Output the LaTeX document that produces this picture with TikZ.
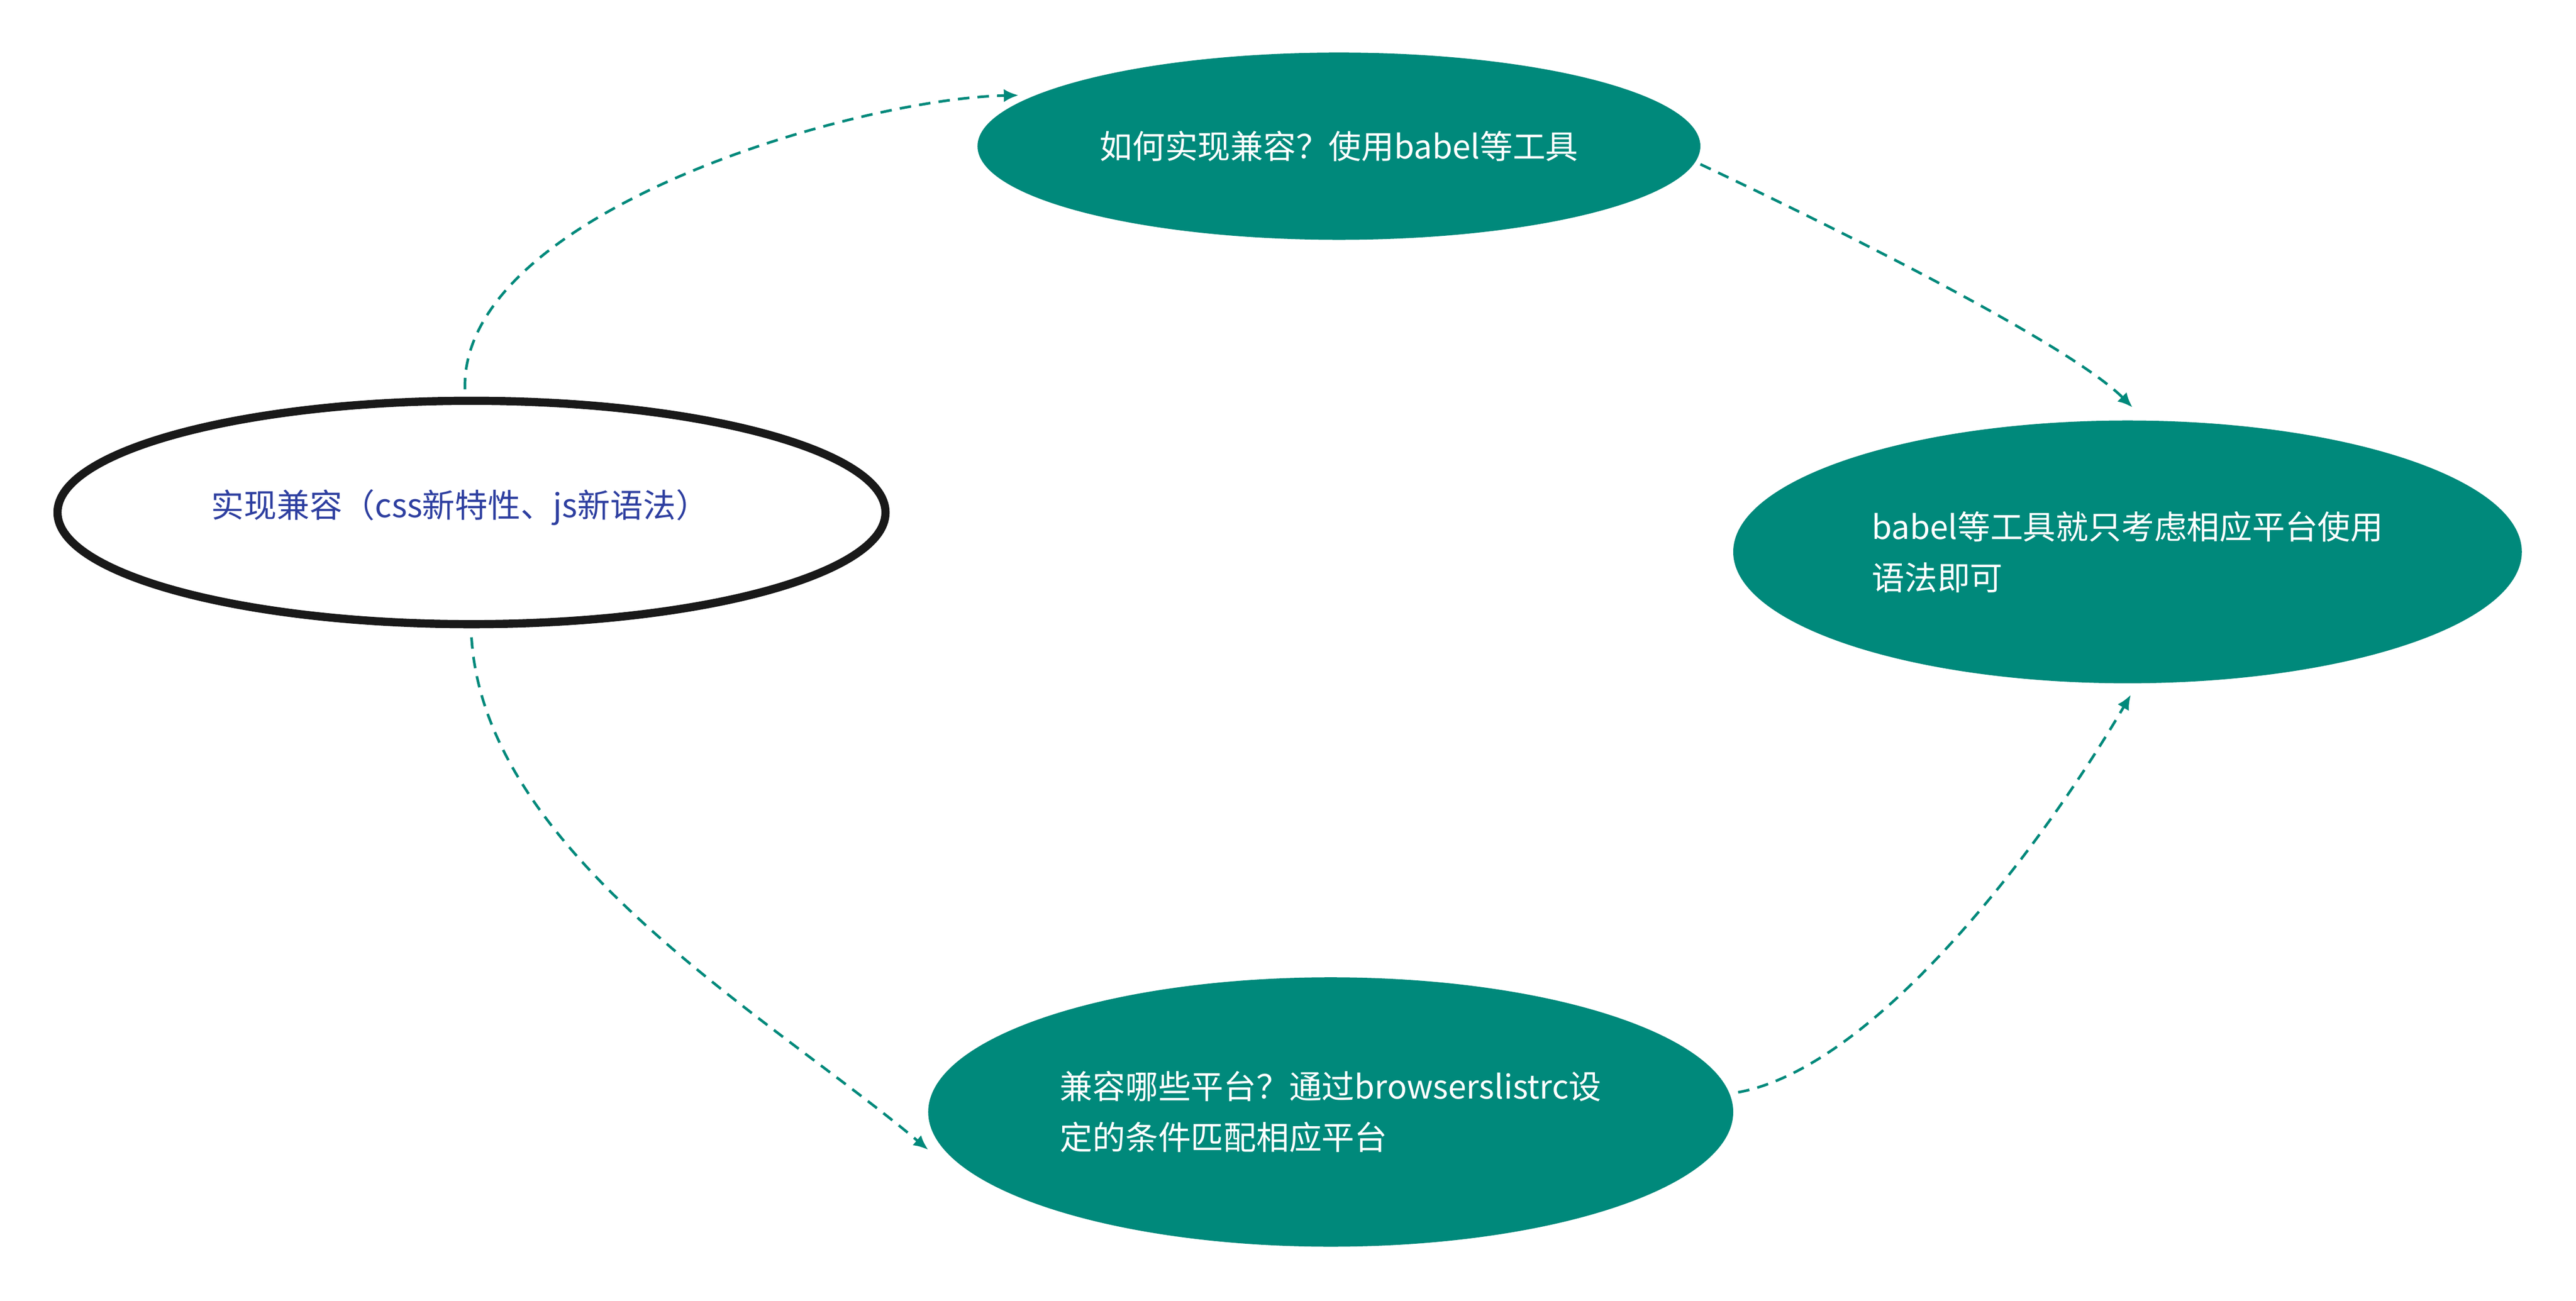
\documentclass[tikz,border=0pt]{standalone}
\usepackage{fontspec}
\setmainfont{Noto Sans CJK SC}
\usetikzlibrary{arrows.meta}
\definecolor{teal1}{HTML}{00897B}
\definecolor{blue1}{HTML}{2E3FA0}
\tikzset{
  con/.style={draw=teal1, line width=1.6pt, dash pattern=on 7pt off 5pt, -{Latex[length=9pt,width=8pt]}}
}
\begin{document}
\begin{tikzpicture}[x=1bp,y=-1bp]
\useasboundingbox (0,0) rectangle (1568,792);
\path[fill=white,draw=black!90,line width=5pt] (287,312) ellipse [x radius=252,y radius=68];
\node[text=blue1,font=\fontsize{20}{30}\selectfont] (L) at (280,309) {实现兼容（css新特性、js新语法）};
\coordinate (Lt) at (283,237); \coordinate (Lb) at (287,388);
\fill[teal1] (815,89) ellipse [x radius=220,y radius=57];
\node[text=white,font=\fontsize{20}{30}\selectfont] (T) at (815,89) {如何实现兼容？使用babel等工具};
\coordinate (Tl) at (620,58); \coordinate (Tr) at (1035,100);
\fill[teal1] (1295,336) ellipse [x radius=240,y radius=80];
\node[text=white,font=\fontsize{20}{31}\selectfont,align=left] (R) at (1295,336) {babel等工具就只考虑相应平台使用\\语法即可};
\coordinate (Rt) at (1298,248); \coordinate (Rb) at (1297,423);
\fill[teal1] (810,677) ellipse [x radius=245,y radius=82];
\node[text=white,font=\fontsize{20}{31}\selectfont,align=left] (B) at (810,677) {兼容哪些平台？通过browserslistrc设\\定的条件匹配相应平台};
\coordinate (Bl) at (565,700); \coordinate (Br) at (1058,665);
\draw[con] (Lt) .. controls (280,130) and (520,60) .. (Tl);
\draw[con] (Tr) .. controls (1120,140) and (1260,210) .. (Rt);
\draw[con] (Lb) .. controls (295,520) and (470,620) .. (Bl);
\draw[con] (Br) .. controls (1140,650) and (1240,520) .. (Rb);
\end{tikzpicture}
\end{document}
